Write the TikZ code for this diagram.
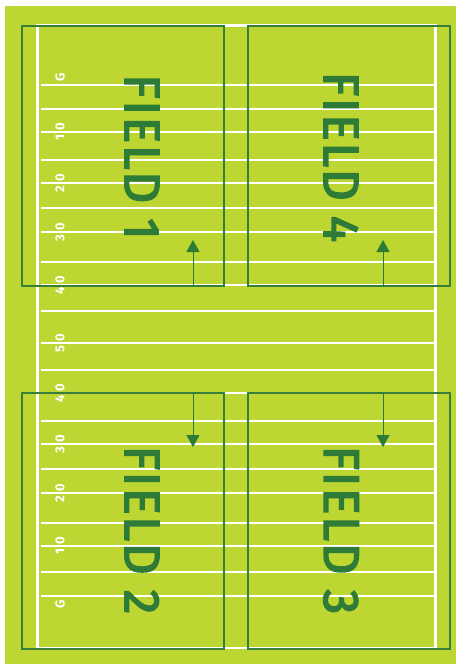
\documentclass[tikz,border=0pt]{standalone}
\usepackage{fontspec}
\setmainfont{Fira Sans}
\newfontfamily\fieldfont[LetterSpace=3,FakeBold=3]{Fira Sans}
\newfontfamily\numfont[LetterSpace=30]{Fira Sans}
\usetikzlibrary{arrows.meta}
\definecolor{turf}{HTML}{BED631}
\definecolor{fgreen}{HTML}{2D7B37}
\definecolor{edge}{HTML}{347F3A}
\tikzset{
  yardline/.style={draw=white,line width=1.3pt},
  goalline/.style={draw=white,line width=2.5pt},
  fieldbox/.style={draw=edge,line width=1.2pt,minimum width=202pt,inner sep=0pt,outer sep=0pt},
  fieldlabel/.style={text=fgreen,font=\fieldfont\fontsize{50}{50}\selectfont,rotate=-90,inner sep=0pt},
  yardnum/.style={text=white,font=\numfont\bfseries\fontsize{13}{13}\selectfont,rotate=90,inner sep=0pt},
  movear/.style={-{Triangle[length=12pt,width=13pt]},line width=1pt,draw=fgreen},
}
\begin{document}
\begin{tikzpicture}[x=1pt,y=-1pt]
  \useasboundingbox (0,0) rectangle (456,664);
  \fill[turf] (5,6) rectangle (456,664);
  \foreach \y in {109,132,160,183,208,232,262,285,311,370,393,421,444,469,493,523,546,572}
    \draw[yardline] (41,\y) -- (435,\y);
  \foreach \y in {85,343,596}
    \draw[goalline] (41,\y) -- (435,\y);
  \draw[white,line width=2.5pt] (37.5,25.5) rectangle (435.5,648);
  \foreach \y/\n in {132/10,183/20,232/30,285/40,343/50,393/40,444/30,493/20,546/10}
    \node[yardnum] (num\y) at (60,\y) {\n};
  \node[yardnum] (gtop) at (60,77.5) {G};
  \node[yardnum] (gbot) at (60,604) {G};
  \node[fieldbox,minimum height=260pt] (f1) at (123,156) {};
  \node[fieldbox,minimum height=260pt] (f4) at (349,156) {};
  \node[fieldbox,minimum height=256pt] (f2) at (123,521) {};
  \node[fieldbox,minimum height=256pt] (f3) at (349,521) {};
  \node[fieldlabel] (l1) at (142,157) {FIELD 1};
  \node[fieldlabel] (l4) at (341,157) {FIELD 4};
  \node[fieldlabel] (l2) at (142,530) {FIELD 2};
  \node[fieldlabel] (l3) at (341,530) {FIELD 3};
  \coordinate (t1) at (193,240);
  \coordinate (t4) at (383,240);
  \coordinate (t2) at (193,447);
  \coordinate (t3) at (383,447);
  \draw[movear] (t1 |- f1.south) -- (t1);
  \draw[movear] (t4 |- f4.south) -- (t4);
  \draw[movear] (t2 |- f2.north) -- (t2);
  \draw[movear] (t3 |- f3.north) -- (t3);
\end{tikzpicture}
\end{document}
